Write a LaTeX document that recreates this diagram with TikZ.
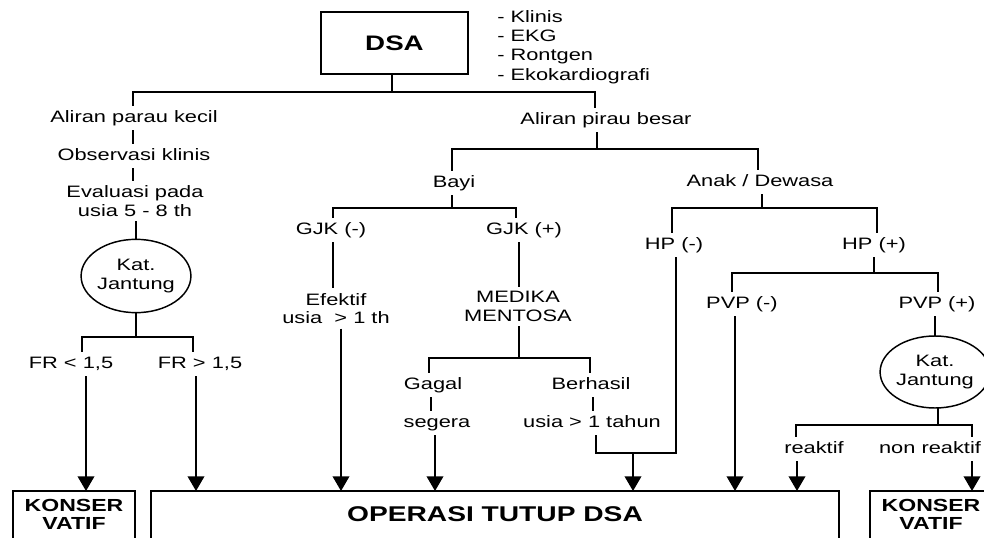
\documentclass[tikz,border=0pt]{standalone}
\usepackage{fontspec}
\setmainfont{Liberation Sans}[FakeStretch=1.32]
\usetikzlibrary{arrows.meta,shapes.geometric}
\begin{document}
\begin{tikzpicture}[x=0.75pt,y=-0.75pt,
  txt/.style={font=\fontsize{12.4pt}{13.9pt}\selectfont, inner sep=0pt, outer sep=3.5pt, text height=9pt, text depth=2.6pt},
  mtxt/.style={font=\fontsize{12.4pt}{14pt}\selectfont, inner sep=0pt, outer sep=3.5pt, align=center},
  ln/.style={line width=1.1pt},
  arr/.style={line width=1.1pt, -{Triangle[length=11pt,width=12.5pt]}},
  boxline/.style={line width=1.5pt},
  bigbox/.style={inner sep=0pt, outer sep=0pt, minimum height=34.5pt, anchor=north west, align=center},
  kat/.style={ellipse, draw, line width=1.1pt, inner sep=0pt, outer sep=0pt, align=center, font=\fontsize{12.4pt}{14.25pt}\selectfont}
]
\clip (0,0) rectangle (984,538);
\fill[white] (0,0) rectangle (984,538);

% ---------- nodes ----------
\node[draw, line width=1.9pt, minimum width=110pt, minimum height=46.5pt, inner sep=0pt, outer sep=0pt,
      font=\bfseries\fontsize{15.75pt}{18pt}\selectfont] (dsa) at (394.5,43) {DSA};
\node[anchor=north west, inner sep=0pt, align=left, font=\fontsize{12.4pt}{14.5pt}\selectfont] (list) at (497,10)
  {- Klinis\\- EKG\\- Rontgen\\- Ekokardiografi};

\coordinate (j1) at (392,92);
\node[txt] (alk) at (134,118) {Aliran parau kecil};
\node[txt] (apb) at (606,120) {Aliran pirau besar};
\node[txt] (obs) at (134,156) {Observasi klinis};
\node[mtxt] (eval) at (135,201) {Evaluasi pada\\usia 5 - 8 th};
\node[kat, minimum width=80pt, minimum height=55pt] (kat1) at (136,276) {Kat.\\Jantung};
\coordinate (j2) at (136,337);
\node[txt] (fr1) at (71,364) {FR < 1,5};
\node[txt] (fr2) at (200,364) {FR > 1,5};

\coordinate (j3) at (597,149);
\node[txt] (bayi) at (454,183) {Bayi};
\node[txt] (anak) at (760,182) {Anak / Dewasa};
\coordinate (j4) at (452,208);
\coordinate (j5) at (762,208);
\node[txt] (gjkm) at (331,230) {GJK (-)};
\node[txt] (gjkp) at (524,230) {GJK (+)};
\node[txt] (hpm) at (674,245) {HP (-)};
\node[txt] (hpp) at (874,245) {HP (+)};
\node[mtxt] (efk) at (336,308.5) {Efektif\\usia \ > 1 th};
\node[mtxt] (med) at (518,306.5) {MEDIKA\\MENTOSA};
\coordinate (j6) at (519,358);
\node[txt] (gagal) at (433,385) {Gagal};
\node[txt] (segera) at (437,423) {segera};
\node[txt] (berhasil) at (591,385) {Berhasil};
\node[txt] (usia1) at (592,423) {usia > 1 tahun};
\coordinate (j9) at (633,453);
\coordinate (j7) at (874,273);
\node[txt] (pvpm) at (742,304) {PVP (-)};
\node[txt] (pvpp) at (937,304) {PVP (+)};
\node[kat, minimum width=75pt, minimum height=54pt] (kat2) at (935,372) {Kat.\\Jantung};
\coordinate (j8) at (938,425);
\node[txt] (reaktif) at (814,449) {reaktif};
\node[txt] (nonreaktif) at (930,449) {non reaktif};

% bottom boxes
\node[bigbox, minimum width=91.5pt, font=\bfseries\fontsize{13.1pt}{13.5pt}\selectfont] (kv1) at (13,491) {KONSER\\VATIF};
\node[bigbox, minimum width=516pt, font=\bfseries\fontsize{16pt}{18pt}\selectfont] (op) at (151,491) {OPERASI TUTUP DSA};
\node[bigbox, minimum width=91.5pt, font=\bfseries\fontsize{13.1pt}{13.5pt}\selectfont] (kv2) at (870,491) {KONSER\\VATIF};
\foreach \b in {kv1,op,kv2}
  \draw[boxline] ([yshift=-20pt]\b.south west) -- (\b.north west) -- (\b.north east) -- ([yshift=-20pt]\b.south east);

% ---------- connectors ----------
\begin{scope}[ln]
\draw (dsa.south -| j1) -- (j1);
\draw (alk.north -| 133,0) |- (j1) -| (595,0 |- apb.north);
\draw (alk.south -| 133,0) -- (133,0 |- obs.north);
\draw (obs.south -| 133,0) -- (133,0 |- eval.north);
\draw (eval.south -| kat1.north) -- (kat1.north);
\draw (kat1.south) -- (j2);
\draw (fr1.north -| 82,0) |- (j2) -| (193,0 |- fr2.north);

\draw (j3 |- apb.south) -- (j3);
\draw (bayi.north -| 452,0) |- (j3) -| (758,0 |- anak.north);
\draw (bayi.south -| j4) -- (j4);
\draw (gjkm.north -| 333,0) |- (j4) -| (516,0 |- gjkp.north);
\draw (anak.south -| j5) -- (j5);
\draw (hpm.north -| 672,0) |- (j5) -| (877,0 |- hpp.north);
\draw (gjkm.south -| 333,0) -- (333,0 |- efk.north);
\draw (gjkp.south -| 519,0) -- (519,0 |- med.north);
\draw (med.south -| j6) -- (j6);
\draw (gagal.north -| 429,0) |- (j6) -| (590,0 |- berhasil.north);
\draw (gagal.south -| 431,0) -- (431,0 |- segera.north);
\draw (berhasil.south -| 593,0) -- (593,0 |- usia1.north);
\draw (usia1.south -| 596,0) |- (j9) -| (676,0 |- hpm.south);
\draw (hpp.south -| j7) -- (j7);
\draw (pvpm.north -| 732,0) |- (j7) -| (938,0 |- pvpp.north);
\draw (pvpp.south -| kat2.north) -- (kat2.north);
\draw (kat2.south -| j8) -- (j8);
\draw (reaktif.north -| 796,0) |- (j8) -| (972,0 |- nonreaktif.north);
\end{scope}

% arrows
\draw[arr] (fr1.south -| 86,0) -- (86,0 |- kv1.north);
\draw[arr] (fr2.south -| 196,0) -- (196,0 |- op.north);
\draw[arr] (efk.south -| 341,0) -- (341,0 |- op.north);
\draw[arr] (segera.south -| 435,0) -- (435,0 |- op.north);
\draw[arr] (j9) -- (j9 |- op.north);
\draw[arr] (pvpm.south -| 735,0) -- (735,0 |- op.north);
\draw[arr] (reaktif.south -| 797,0) -- (797,0 |- op.north);
\draw[arr] (nonreaktif.south -| 972,0) -- (972,0 |- kv2.north);
\end{tikzpicture}
\end{document}
